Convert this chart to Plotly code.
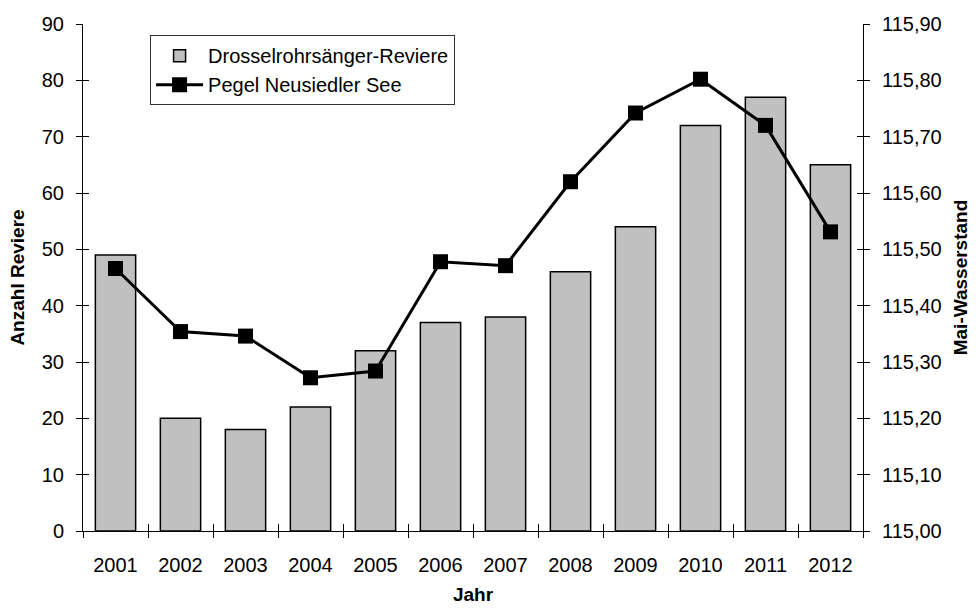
import plotly.graph_objects as go

# Data
years = ["2001", "2002", "2003", "2004", "2005", "2006",
         "2007", "2008", "2009", "2010", "2011", "2012"]
reviere = [49, 20, 18, 22, 32, 37, 38, 46, 54, 72, 77, 65]
pegel = [115.466, 115.354, 115.346, 115.272, 115.284, 115.478,
         115.471, 115.620, 115.742, 115.802, 115.720, 115.531]

FONT = "Liberation Sans, Arial, sans-serif"

fig = go.Figure()

fig.add_trace(go.Bar(
    x=years, y=reviere, name="Drosselrohrsänger-Reviere",
    marker=dict(color="#C0C0C0", line=dict(color="black", width=1.5)),
    width=0.62, xaxis="x", yaxis="y",
))

fig.add_trace(go.Scatter(
    x=years, y=pegel, name="Pegel Neusiedler See", mode="lines+markers",
    line=dict(color="black", width=3),
    marker=dict(symbol="square", size=15, color="black"),
    xaxis="x", yaxis="y2",
))

# helper traces so the inner tick axes are rendered
fig.add_trace(go.Scatter(x=years, y=[None] * len(years), xaxis="x2", yaxis="y3",
                         showlegend=False, hoverinfo="skip"))
fig.add_trace(go.Scatter(x=years, y=[None] * len(years), xaxis="x2", yaxis="y4",
                         showlegend=False, hoverinfo="skip"))

tickfont = dict(family=FONT, size=20, color="black")
titlefont = dict(family=FONT, size=19, color="black", weight="bold")

common_x = dict(type="category", categoryorder="array", categoryarray=years,
                range=[-0.5, 11.5], tickson="boundaries", showgrid=False,
                zeroline=False, linecolor="black", linewidth=1,
                tickcolor="black", tickwidth=1, automargin=False)

fig.update_layout(
    width=976, height=612,
    margin=dict(l=83, r=113, t=24, b=81),
    paper_bgcolor="white", plot_bgcolor="white",
    separators=",.",
    showlegend=True,
    legend=dict(x=0.086, y=0.978, xanchor="left", yanchor="top",
                bgcolor="white", bordercolor="#333333", borderwidth=1,
                font=dict(family=FONT, size=20, color="black"),
                itemwidth=47, tracegroupgap=0),
    xaxis=dict(**common_x, showline=True, ticks="outside", ticklen=6,
               tickfont=tickfont, ticklabelstandoff=16, anchor="y",
               title=dict(text="Jahr", font=titlefont, standoff=12)),
    xaxis2=dict(**common_x, overlaying="x", anchor="y", showline=False,
                ticks="inside", ticklen=7, showticklabels=False),
    yaxis=dict(range=[0, 90], dtick=10, showgrid=False, zeroline=False,
               showline=True, linecolor="black", linewidth=1,
               ticks="outside", ticklen=6, tickcolor="black",
               tickfont=tickfont, ticklabelstandoff=8, automargin=False,
               title=dict(text="Anzahl Reviere", font=titlefont, standoff=12)),
    yaxis2=dict(range=[115.0, 115.9], dtick=0.1, tickformat=".2f",
                overlaying="y", side="right", anchor="x",
                showgrid=False, zeroline=False, showline=True,
                linecolor="black", linewidth=1, ticks="outside", ticklen=6,
                tickcolor="black", tickfont=tickfont, ticklabelstandoff=8,
                automargin=False,
                title=dict(text="Mai-Wasserstand", font=titlefont, standoff=13)),
    yaxis3=dict(range=[0, 90], dtick=10, overlaying="y", side="left",
                anchor="x2", showgrid=False, zeroline=False, showline=False,
                ticks="inside", ticklen=6, tickcolor="black",
                showticklabels=False, automargin=False),
    yaxis4=dict(range=[115.0, 115.9], dtick=0.1, overlaying="y", side="right",
                anchor="x2", showgrid=False, zeroline=False, showline=False,
                ticks="inside", ticklen=6, tickcolor="black",
                showticklabels=False, automargin=False),
)

fig.write_html("out.html")
